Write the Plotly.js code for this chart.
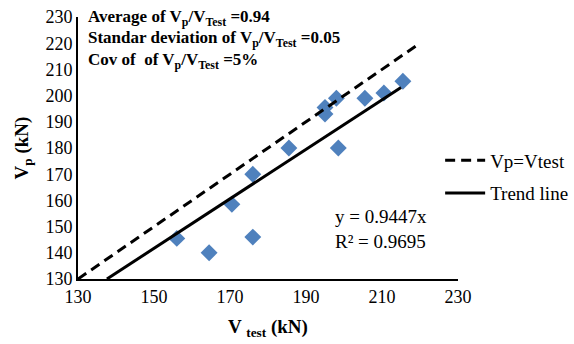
<!DOCTYPE html>
<html>
<head>
<meta charset="utf-8">
<script src="https://cdn.plot.ly/plotly-3.0.1.min.js"></script>
<style>html,body{margin:0;padding:0;background:#fff}#chart{width:574px;height:344px}</style>
</head>
<body>
<div id="chart"></div>
<script>
// Measured shear capacity vs. predicted capacity (kN)
const vTest = [156, 164.5, 170.5, 176, 176, 185.5, 195, 195, 198, 198.5, 205.5, 210.5, 215.5];
const vPred = [145.5, 140, 158.5, 146, 170, 180, 193, 195.5, 199, 180, 199, 201, 205.5];

// Reference line Vp = Vtest and fitted trend y = slope * x
const equalityX = [130, 220];
const trendSlope = 0.9447;
const trendR2 = 0.9695;
const trendX = [130 / trendSlope, 215];
const trendY = trendX.map(x => trendSlope * x);

const statLabels = [
  '<b>Average of V<sub>p</sub>/V<sub>Test</sub> =0.94</b>',
  '<b>Standar deviation of V<sub>p</sub>/V<sub>Test</sub> =0.05</b>',
  '<b>Cov of  of V<sub>p</sub>/V<sub>Test</sub> =5%</b>'
];
const tickVals = [130, 140, 150, 160, 170, 180, 190, 200, 210, 220, 230];
const xTickVals = [130, 150, 170, 190, 210, 230];

const serif = 'Liberation Serif, Times New Roman, serif';

const traces = [
  {
    x: vTest, y: vPred, mode: 'markers', type: 'scatter', showlegend: false,
    marker: {symbol: 'diamond', size: 13, color: '#4F81BD'}
  },
  {
    x: equalityX, y: equalityX, mode: 'lines', type: 'scatter', name: 'Vp=Vtest',
    legendgroup: 'eq', line: {color: '#000', width: 3, dash: '10px,6px'}
  },
  {
    x: trendX, y: trendY, mode: 'lines', type: 'scatter', name: 'Trend line',
    legendgroup: 'trend', line: {color: '#000', width: 3}
  }
];

const annotations = statLabels.map((t, i) => ({
  xref: 'paper', yref: 'paper', x: 0.02, y: 1.045 - i * 0.081,
  xanchor: 'left', yanchor: 'top', text: t, showarrow: false,
  font: {family: serif, size: 17, color: '#000'}
}));
annotations.push({
  xref: 'x', yref: 'y', x: 197, y: 149, xanchor: 'left', yanchor: 'middle',
  text: 'y = ' + trendSlope + 'x<br>R² = ' + trendR2, showarrow: false, align: 'left',
  font: {family: serif, size: 19, color: '#000'}
});

const layout = {
  width: 574, height: 344,
  margin: {l: 78, r: 116, t: 17, b: 65, autoexpand: false},
  paper_bgcolor: '#fff', plot_bgcolor: '#fff',
  font: {family: serif, size: 18, color: '#000'},
  xaxis: {
    range: [130, 230], tickvals: xTickVals, showgrid: false, zeroline: false,
    showline: true, linecolor: '#000', linewidth: 2, ticks: '',
    tickfont: {family: serif, size: 18},
    title: {text: '<b>V <sub>test</sub> (kN)</b>', font: {family: serif, size: 19}, standoff: 14}
  },
  yaxis: {
    range: [130, 230], tickvals: tickVals, showgrid: false, zeroline: false,
    showline: true, linecolor: '#000', linewidth: 2, ticks: '',
    tickfont: {family: serif, size: 18},
    title: {text: '<b>V<sub>p</sub> (kN)</b>', font: {family: serif, size: 19}, standoff: 12}
  },
  showlegend: true,
  legend: {
    x: 0.953, xanchor: 'left', y: 0.525, yanchor: 'top',
    bgcolor: 'rgba(0,0,0,0)', font: {family: serif, size: 19},
    traceorder: 'grouped', tracegroupgap: 5, itemwidth: 40
  },
  annotations: annotations
};

Plotly.newPlot('chart', traces, layout, {staticPlot: true, displayModeBar: false});
</script>
</body>
</html>
